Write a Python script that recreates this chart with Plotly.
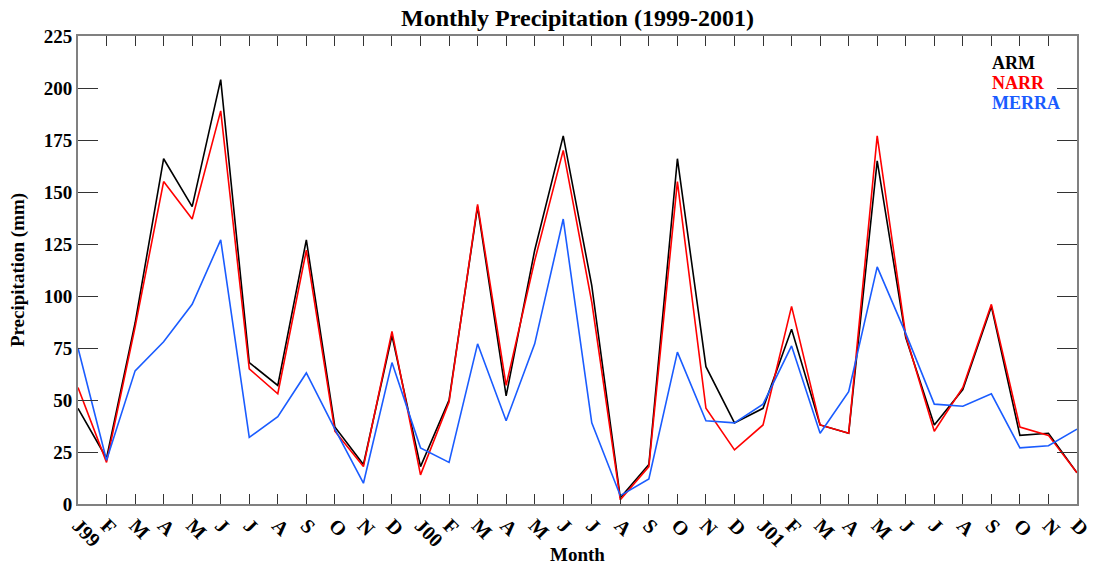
import plotly.graph_objects as go

months = ["J99", "F", "M", "A", "M", "J", "J", "A", "S", "O", "N", "D",
          "J00", "F", "M", "A", "M", "J", "J", "A", "S", "O", "N", "D",
          "J01", "F", "M", "A", "M", "J", "J", "A", "S", "O", "N", "D"]

arm = [46, 22, 87, 166, 143, 204, 68, 57, 127, 37, 19, 81,
       18, 50, 143, 52, 122, 177, 105, 3, 19, 166, 66, 39,
       46, 84, 38, 34, 165, 80, 38, 55, 95, 33, 34, 15]

narr = [56, 20, 85, 155, 137, 189, 65, 53, 122, 35, 18, 83,
        14, 49, 144, 57, 117, 170, 97, 2, 18, 155, 46, 26,
        38, 95, 38, 34, 177, 81, 35, 56, 96, 37, 33, 15]

merra = [75, 21, 64, 78, 96, 127, 32, 42, 63, 36, 10, 68,
         27, 20, 77, 40, 77, 137, 39, 4, 12, 73, 40, 39,
         48, 76, 34, 54, 114, 82, 48, 47, 53, 27, 28, 36]

series_names = ["ARM", "NARR", "MERRA"]
series_colors = ["#000000", "#ff0000", "#1a5cff"]
yticks = [0, 25, 50, 75, 100, 125, 150, 175, 200, 225]

x = list(range(len(months)))
FONT = "Liberation Serif, Times New Roman, serif"

fig = go.Figure()
for name, vals, col in zip(series_names, [arm, narr, merra], series_colors):
    fig.add_trace(go.Scatter(x=x, y=vals, mode="lines", name=name,
                             line=dict(color=col, width=1.6), showlegend=False))

# legend as coloured text
for i, (name, col) in enumerate(zip(series_names, series_colors)):
    fig.add_annotation(xref="paper", yref="paper", x=0.913, y=0.943 - i * 0.043,
                       xanchor="left", yanchor="middle", showarrow=False,
                       text=name, font=dict(family=FONT, size=18, color=col, weight="bold"))

fig.update_layout(
    width=1099, height=565,
    margin=dict(l=78, r=22, t=36, b=61),
    paper_bgcolor="white", plot_bgcolor="white",
    font=dict(family=FONT, color="black"),
    title=dict(text="Monthly Precipitation (1999-2001)", x=0.5255, xanchor="center",
               y=0.968, yanchor="middle",
               font=dict(family=FONT, size=24, weight="bold", color="black")),
)
fig.update_xaxes(
    range=[0, 35], tickvals=x, ticktext=months, tickangle=45, automargin=False,
    ticks="inside", ticklen=10, tickwidth=1.2, tickcolor="#333333",
    showline=True, linecolor="#808080", linewidth=2, mirror="allticks",
    showgrid=False, zeroline=False,
    tickfont=dict(family=FONT, size=20, weight="bold", color="black"),
    title=dict(text="Month", standoff=0,
               font=dict(family=FONT, size=19, weight="bold", color="black")),
)
fig.update_yaxes(
    range=[0, 225], tickvals=yticks, automargin=False,
    ticks="inside", ticklen=20, tickwidth=1.2, tickcolor="#333333",
    showline=True, linecolor="#808080", linewidth=2, mirror="allticks",
    showgrid=False, zeroline=False,
    tickfont=dict(family=FONT, size=19, weight="bold", color="black"),
    title=dict(text="Precipitation (mm)", standoff=14,
               font=dict(family=FONT, size=19, weight="bold", color="black")),
)

fig.write_html("out.html")
